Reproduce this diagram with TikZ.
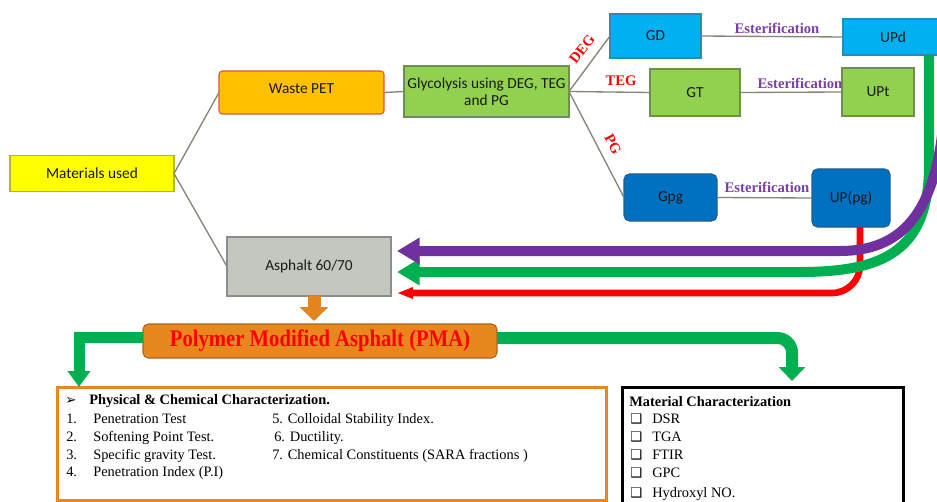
\documentclass[tikz,border=0pt]{standalone}
\usepackage{fontspec}
\setmainfont{Liberation Serif}
\newfontfamily\carl{Carlito}
\newfontfamily\dejavu{DejaVu Sans}
\usetikzlibrary{arrows.meta,calc}
\definecolor{matyellow}{HTML}{FFFF00}
\definecolor{matborder}{HTML}{B5B52A}
\definecolor{petorange}{HTML}{FFC000}
\definecolor{petborder}{HTML}{E2553A}
\definecolor{lgreen}{HTML}{92D050}
\definecolor{gborder}{HTML}{6E8F4E}
\definecolor{lblue}{HTML}{00B0F0}
\definecolor{bborder}{HTML}{2A8AB5}
\definecolor{dblue}{HTML}{0070C0}
\definecolor{dborder}{HTML}{245C8E}
\definecolor{aspgray}{HTML}{C3C7BF}
\definecolor{aspborder}{HTML}{8C8C8C}
\definecolor{pmaorange}{HTML}{E8871E}
\definecolor{pmaborder}{HTML}{B0651E}
\definecolor{linegray}{HTML}{85857A}
\definecolor{flowpurple}{HTML}{7030A0}
\definecolor{flowgreen}{HTML}{00B050}
\definecolor{flowred}{HTML}{FF0000}
\definecolor{estpurple}{HTML}{7B3FA8}
\definecolor{arroworange}{HTML}{E3841E}
\begin{document}
\begin{tikzpicture}[x=0.75pt,y=-0.75pt,
  box/.style={draw, inner sep=0pt, outer sep=0pt, font=\carl\fontsize{11.5}{12.75}\selectfont, text=black!90, line width=0.8pt, align=center},
  conn/.style={draw=linegray, line width=1pt},
  redlab/.style={text=flowred, inner sep=0pt, font=\bfseries\fontsize{11}{13}\selectfont},
  estlab/.style={text=estpurple, inner sep=0pt, font=\bfseries\fontsize{11}{13}\selectfont},
  bodytxt/.style={anchor=base west, inner sep=0pt, font=\fontsize{10.8}{13}\selectfont},
  boldtxt/.style={bodytxt, font=\bfseries\fontsize{10.8}{13}\selectfont},
  symtxt/.style={bodytxt, font=\dejavu\fontsize{10}{12}\selectfont},
  bigflow/.style={line width=7.5pt, -{Triangle[length=17pt,width=19pt]}},
  greenarrow/.style={draw=flowgreen, miter limit=10}
]
\useasboundingbox (0,0) rectangle (937,502);
\fill[white] (0,0) rectangle (937,502);

% boxes
\node[box, fill=matyellow, draw=matborder, minimum width=123pt, minimum height=27pt] (mat) at (92,173.5) {Materials used};
\node[box, fill=petorange, draw=petborder, rounded corners=2.5pt, minimum width=123.75pt, minimum height=32.25pt] (pet) at (301.5,92.5) {\raisebox{5.5pt}{Waste PET}};
\node[box, fill=lgreen, draw=gborder, minimum width=123.75pt, minimum height=38.25pt] (gly) at (486.5,91.5) {Glycolysis using DEG, TEG\\and PG};
\node[box, fill=lblue, draw=bborder, minimum width=68.25pt, minimum height=33pt] (gd) at (655.5,36) {GD};
\node[box, fill=lblue, draw=bborder, minimum width=75pt, minimum height=27pt] (upd) at (893,37) {UPd};
\node[box, fill=lgreen, draw=gborder, minimum width=67.5pt, minimum height=35.25pt] (gt) at (695,92.5) {GT};
\node[box, fill=lgreen, draw=gborder, minimum width=54pt, minimum height=36pt] (upt) at (878,92) {UPt};
\node[box, fill=dblue, draw=dborder, rounded corners=4pt, minimum width=69.75pt, minimum height=35.25pt] (gpg) at (670.5,197.5) {Gpg};
\node[box, fill=dblue, draw=dborder, rounded corners=4pt, minimum width=58.5pt, minimum height=43.5pt] (uppg) at (851,198) {UP(pg)};
\node[box, fill=aspgray, draw=aspborder, minimum width=123pt, minimum height=44.25pt] (asp) at (309,266.5) {Asphalt 60/70};
\node[box, fill=pmaorange, draw=pmaborder, rounded corners=4pt, minimum width=265.5pt, minimum height=25.5pt, font=\bfseries\fontsize{15.5}{17}\selectfont, text=flowred] (pma) at (320,341) {\scalebox{1}[1.15]{Polymer Modified Asphalt (PMA)}};

% thin connectors
\draw[conn] (mat.east) -- (pet.west);
\draw[conn] (mat.east) -- (asp.west);
\draw[conn] (pet.east) -- (gly.west);
\draw[conn] (gly.east) -- (gd.west);
\draw[conn] (gly.east) -- (gt.west);
\draw[conn] (gly.east) -- (gpg.west);
\draw[conn] (gd.east) -- (upd.west);
\draw[conn] (gt.east) -- (upt.west);
\draw[conn] (gpg.east) -- (uppg.west);

% labels
\node[redlab, rotate=52] (ldeg) at (582,49) {DEG};
\node[redlab] (lteg) at (621,81) {TEG};
\node[redlab, rotate=-62] (lpg) at (613,144) {PG};
\node[estlab] (e1) at (777,28) {Esterification};
\node[estlab] (e2) at (800,83) {Esterification};
\node[estlab] (e3) at (767,187) {Esterification};

% return flows
\coordinate (pin) at (397,251);
\coordinate (gin) at (397,272);
\coordinate (rin) at (397,293);
\coordinate (pstart) at (942,135);
\draw[flowred, line width=5pt, rounded corners=21pt, -{Triangle[length=12pt,width=8pt]}]
  ([xshift=6.75pt]uppg.south) |- (rin);
\draw[flowgreen, bigflow] ([xshift=27pt]upd.south) -- (929,165) .. controls (929,250) and (885,272) .. (800,272) -- (gin);
\draw[flowpurple, bigflow] (pstart) .. controls (932,215) and (900,251) .. (840,251) -- (pin);

% asphalt -> PMA
\coordinate (otip) at (314,321);
\draw[arroworange, line width=9.75pt, -{Triangle[length=10.5pt,width=21pt]}] ([xshift=3.75pt]asp.south) -- (otip);

% bottom boxes
\node[draw=pmaorange, line width=2.25pt, minimum width=411.75pt, minimum height=84.75pt, inner sep=0pt] (lbox) at (331.5,443.5) {};
\node[draw=black, line width=2.25pt, minimum width=210.75pt, minimum height=96pt, inner sep=0pt] (rbox) at (762.5,451) {};

% PMA -> boxes
\coordinate (ltip) at (79,387);
\coordinate (rtip) at (792,381);
\draw[greenarrow, line width=8.25pt, -{Triangle[length=12pt,width=16.5pt]}] ([yshift=3pt]pma.west) -| (ltip);
\draw[greenarrow, line width=9pt, rounded corners=11pt, -{Triangle[length=10.5pt,width=19.5pt]}] ([yshift=2.25pt]pma.east) -| (rtip);

% left box text
\node[symtxt] (hb) at (65,404) {➢};
\node[boldtxt] (ht) at (89,404) {Physical \& Chemical Characterization.};
\node[bodytxt] (n1) at (66,423) {1.};
\node[bodytxt] (t1) at (93,423) {Penetration Test};
\node[bodytxt] (t5) at (272,423) {5. Colloidal Stability Index.};
\node[bodytxt] (n2) at (66,441) {2.};
\node[bodytxt] (t2) at (93,441) {Softening Point Test.};
\node[bodytxt] (t6) at (274,441) {6. Ductility.};
\node[bodytxt] (n3) at (66,459) {3.};
\node[bodytxt] (t3) at (93,459) {Specific gravity Test.};
\node[bodytxt] (t7) at (272,459) {7. Chemical Constituents (SARA fractions )};
\node[bodytxt] (n4) at (66,476) {4.};
\node[bodytxt] (t4) at (93,476) {Penetration Index (P.I)};

% right box text
\node[boldtxt] (mh) at (629,406) {Material Characterization};
\node[symtxt] (b1) at (630,423) {❑};
\node[bodytxt] (r1) at (652,423) {DSR};
\node[symtxt] (b2) at (630,441) {❑};
\node[bodytxt] (r2) at (652,441) {TGA};
\node[symtxt] (b3) at (630,459) {❑};
\node[bodytxt] (r3) at (652,459) {FTIR};
\node[symtxt] (b4) at (630,477) {❑};
\node[bodytxt] (r4) at (652,477) {GPC};
\node[symtxt] (b5) at (630,497) {❑};
\node[bodytxt] (r5) at (652,497) {Hydroxyl NO.};
\end{tikzpicture}
\end{document}
